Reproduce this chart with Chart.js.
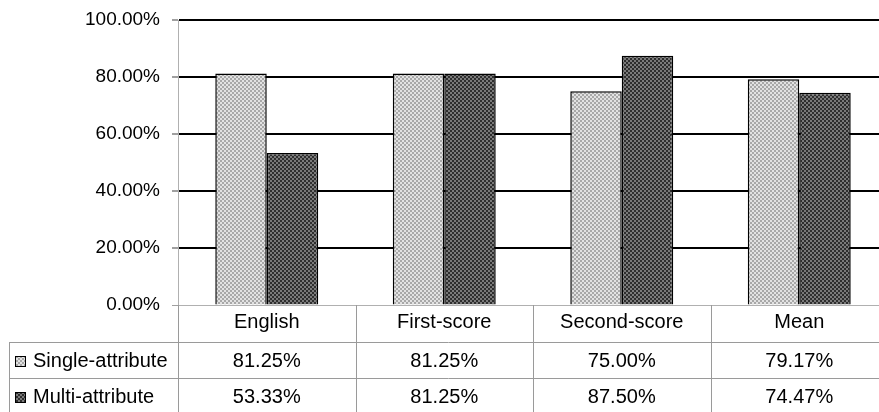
<!DOCTYPE html>
<html>
<head>
<meta charset="utf-8">
<script src="https://cdn.jsdelivr.net/npm/chart.js@4/dist/chart.umd.min.js"></script>
<style>
  html, body { margin: 0; padding: 0; background: #fff; overflow: hidden; }
  #wrap { width: 888px; height: 412px; }
</style>
</head>
<body>
<div id="wrap"><canvas id="c" width="888" height="412"></canvas></div>
<script>
// Categories, series and tick labels
const categories = ['English', 'First-score', 'Second-score', 'Mean'];
const seriesNames = ['Single-attribute', 'Multi-attribute'];
const singleAttribute = [81.25, 81.25, 75.00, 79.17];
const multiAttribute = [53.33, 81.25, 87.50, 74.47];
const yTicks = [0, 20, 40, 60, 80, 100];

const FONT = '"Liberation Sans", Arial, sans-serif';

// Checkered fill, like a printed halftone
function checker(a, b) {
  const c = document.createElement('canvas');
  c.width = 4; c.height = 4;
  const g = c.getContext('2d');
  g.fillStyle = a; g.fillRect(0, 0, 4, 4);
  g.fillStyle = b; g.fillRect(0, 0, 2, 2); g.fillRect(2, 2, 2, 2);
  return g.createPattern(c, 'repeat');
}
const lightFill = checker('#e2e2e2', '#a8a8a8');
const darkFill = checker('#7a7a7a', '#2e2e2e');
const fills = [lightFill, darkFill];
const series = [singleAttribute, multiAttribute];

const fmt = v => v.toFixed(2) + '%';

// Data table under the plot, aligned with the category scale
const dataTable = {
  id: 'dataTable',
  afterDraw(chart) {
    const ctx = chart.ctx;
    const x = chart.scales.x;
    const area = chart.chartArea;
    const step = (area.right - area.left) / categories.length;
    const top = area.bottom;
    const rule1 = 342, rule2 = 378;
    const headerY = 322, rowCenters = [361, 397];
    ctx.save();
    ctx.strokeStyle = '#9a9a9a';
    ctx.lineWidth = 1;
    ctx.beginPath();
    // horizontal rules
    [rule1, rule2].forEach(y => {
      ctx.moveTo(9, y + 0.5); ctx.lineTo(chart.width, y + 0.5);
    });
    // left border of the legend column
    ctx.moveTo(9.5, rule1); ctx.lineTo(9.5, chart.height);
    // column separators
    for (let i = 0; i <= categories.length; i++) {
      const bx = Math.round(area.left + i * step) + 0.5;
      ctx.moveTo(bx, top); ctx.lineTo(bx, chart.height);
    }
    ctx.stroke();

    ctx.fillStyle = '#000';
    ctx.font = '20px ' + FONT;
    ctx.textAlign = 'center';
    ctx.textBaseline = 'middle';
    categories.forEach((cat, i) => {
      const cx = x.getPixelForValue(i);
      ctx.fillText(cat, cx, headerY);
      series.forEach((s, r) => ctx.fillText(fmt(s[i]), cx, rowCenters[r]));
    });

    // legend keys and series names
    ctx.textAlign = 'left';
    seriesNames.forEach((name, r) => {
      const cy = rowCenters[r];
      ctx.fillStyle = fills[r];
      ctx.fillRect(15, cy - 5, 11, 11);
      ctx.strokeStyle = '#000';
      ctx.lineWidth = 1;
      ctx.strokeRect(15.5, cy - 4.5, 10, 10);
      ctx.fillStyle = '#000';
      ctx.fillText(name, 33, cy);
    });
    ctx.restore();
  }
};

new Chart(document.getElementById('c'), {
  type: 'bar',
  data: {
    labels: categories,
    datasets: [
      { label: seriesNames[0], data: singleAttribute, backgroundColor: lightFill,
        borderColor: '#000', borderWidth: 1.5 },
      { label: seriesNames[1], data: multiAttribute, backgroundColor: darkFill,
        borderColor: '#000', borderWidth: 1.5 }
    ]
  },
  options: {
    responsive: false,
    animation: false,
    layout: { padding: { top: 20, bottom: 107, left: 0, right: 0 } },
    plugins: { legend: { display: false }, tooltip: { enabled: false } },
    datasets: { bar: { categoryPercentage: 0.58, barPercentage: 1.0 } },
    scales: {
      x: { display: false },
      y: {
        min: 0, max: 100,
        afterFit(scale) {
          scale.width = 178;
          scale.paddingTop = 0;
          scale.paddingBottom = 0;
        },
        afterBuildTicks(scale) { scale.ticks = yTicks.map(v => ({ value: v })); },
        ticks: {
          callback: v => fmt(v),
          color: '#000',
          font: { family: FONT, size: 19 },
          padding: 12
        },
        grid: {
          color: c => (c.tick && c.tick.value === 0 ? '#b0b0b0' : '#000'),
          lineWidth: c => (c.tick && c.tick.value === 0 ? 1 : 2),
          tickColor: '#a0a0a0',
          tickLength: 6
        },
        border: { color: '#b0b0b0', width: 1 }
      }
    }
  },
  plugins: [dataTable]
});
</script>
</body>
</html>
